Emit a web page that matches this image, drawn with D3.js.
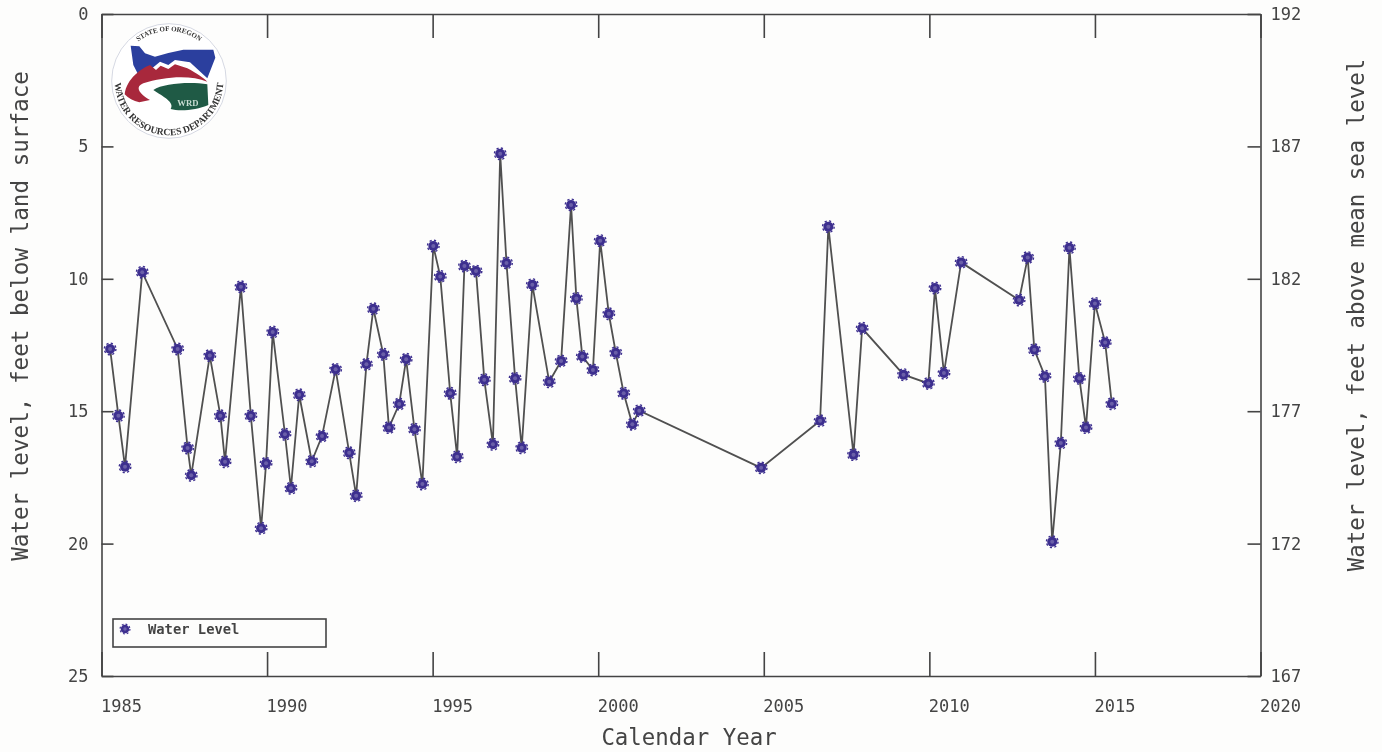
<!DOCTYPE html>
<html>
<head>
<meta charset="utf-8">
<script src="https://cdnjs.cloudflare.com/ajax/libs/d3/7.8.5/d3.min.js"></script>
<style>
    html, body { margin: 0; padding: 0; background: #fdfdfc; }
    svg { display: block; filter: blur(0.5px); }
    text { font-family: "DejaVu Sans Mono", monospace; fill: #444; }
    .domain, .tick line { stroke: #444; stroke-width: 1.6; }
</style>
</head>
<body>
<div id="chart"></div>
<script>
const years = [
    1985.26, 1985.51, 1985.71, 1986.23, 1987.30, 1987.60, 1987.71, 1988.27, 1988.59, 1988.73,
    1989.21, 1989.51, 1989.82, 1989.97, 1990.17, 1990.54, 1990.72, 1990.97, 1991.35, 1991.66,
    1992.07, 1992.48, 1992.69, 1993.00, 1993.21, 1993.51, 1993.68, 1993.99, 1994.20, 1994.45,
    1994.69, 1995.02, 1995.23, 1995.53, 1995.74, 1995.96, 1996.31, 1996.56, 1996.82, 1997.04,
    1997.23, 1997.49, 1997.69, 1998.01, 1998.52, 1998.88, 1999.18, 1999.34, 1999.52, 1999.84,
    2000.06, 2000.32, 2000.53, 2000.77, 2001.03, 2001.24, 2004.92, 2006.70, 2006.95, 2007.71,
    2007.97, 2009.22, 2009.97, 2010.17, 2010.44, 2010.96, 2012.71, 2012.97, 2013.17, 2013.49,
    2013.71, 2013.97, 2014.23, 2014.53, 2014.73, 2015.00, 2015.31, 2015.51
];
const depths = [
    12.65, 15.17, 17.10, 9.75, 12.65, 16.39, 17.42, 12.90, 15.17, 16.91,
    10.30, 15.17, 19.42, 16.97, 12.01, 15.87, 17.91, 14.38, 16.89, 15.94,
    13.42, 16.57, 18.19, 13.23, 11.13, 12.85, 15.62, 14.73, 13.04, 15.68,
    17.75, 8.76, 9.91, 14.32, 16.72, 9.52, 9.71, 13.81, 16.25, 5.28,
    9.40, 13.76, 16.38, 10.22, 13.89, 13.10, 7.21, 10.74, 12.93, 13.44,
    8.56, 11.32, 12.79, 14.32, 15.49, 14.98, 17.14, 15.36, 8.03, 16.64,
    11.87, 13.62, 13.95, 10.35, 13.56, 9.38, 10.80, 9.20, 12.68, 13.68,
    19.93, 16.20, 8.83, 13.76, 15.62, 10.93, 12.41, 14.72
];
const year_ticks = [1985, 1990, 1995, 2000, 2005, 2010, 2015, 2020];
const depth_ticks = [0, 5, 10, 15, 20, 25];
const elevation_ticks = [192, 187, 182, 177, 172, 167];
const series_name = "Water Level";

const width = 1382;
const height = 752;
const plot = {left: 101.5, right: 1260.5, top: 14, bottom: 676};
const line_color = "#505050";
const marker_color = "#3d2f8f";

const svg = d3.select("#chart").append("svg")
    .attr("width", width)
    .attr("height", height);

const x_scale = d3.scaleLinear().domain([1985, 2020]).range([plot.left, plot.right]);
const depth_scale = d3.scaleLinear().domain([0, 25]).range([plot.top, plot.bottom]);
const elevation_scale = d3.scaleLinear().domain([192, 167]).range([plot.top, plot.bottom]);

// axes: ticks point inward, year labels start at the tick like the original
svg.append("g")
    .attr("transform", `translate(0, ${plot.bottom})`)
    .call(d3.axisBottom(x_scale).tickValues(year_ticks).tickFormat(d3.format("d")).tickSizeInner(-24).tickSizeOuter(0))
    .call(g => g.selectAll("text")
        .attr("text-anchor", "start")
        .attr("x", -1)
        .attr("y", 36)
        .attr("dy", 0)
        .style("font-size", "17px"));

svg.append("g")
    .attr("transform", `translate(0, ${plot.top})`)
    .call(d3.axisTop(x_scale).tickValues(year_ticks).tickFormat("").tickSizeInner(-24).tickSizeOuter(0));

svg.append("g")
    .attr("transform", `translate(${plot.left}, 0)`)
    .call(d3.axisLeft(depth_scale).tickValues(depth_ticks).tickSizeInner(-12).tickSizeOuter(0))
    .call(g => g.selectAll("text")
        .attr("x", -13)
        .style("font-size", "17px"));

svg.append("g")
    .attr("transform", `translate(${plot.right}, 0)`)
    .call(d3.axisRight(elevation_scale).tickValues(elevation_ticks).tickSizeInner(-13).tickSizeOuter(0))
    .call(g => g.selectAll("text")
        .attr("x", 10)
        .style("font-size", "17px"));

// axis titles
svg.append("text")
    .attr("x", 689)
    .attr("y", 745)
    .attr("text-anchor", "middle")
    .style("font-size", "22.4px")
    .text("Calendar Year");

svg.append("text")
    .attr("transform", "translate(28, 316) rotate(-90)")
    .attr("text-anchor", "middle")
    .style("font-size", "22.6px")
    .text("Water level, feet below land surface");

svg.append("text")
    .attr("transform", "translate(1364, 315) rotate(-90)")
    .attr("text-anchor", "middle")
    .style("font-size", "22.4px")
    .text("Water level, feet above mean sea level");

const draw_marker = function (selection) {
    selection.append("circle")
        .attr("r", 5)
        .attr("fill", marker_color);
    // little bumps around the disc, the original symbol is a pixel star
    selection.append("circle")
        .attr("r", 5.8)
        .attr("fill", "none")
        .attr("stroke", marker_color)
        .attr("stroke-width", 1.4)
        .attr("stroke-dasharray", "2.2 2.35");
    selection.append("circle")
        .attr("r", 2)
        .attr("fill", "#6a5fa8");
};

// series
const points = years.map((year, i) => ({year: year, depth: depths[i]}));

const line = d3.line()
    .x(d => x_scale(d.year))
    .y(d => depth_scale(d.depth));

svg.append("path")
    .datum(points)
    .attr("fill", "none")
    .attr("stroke", line_color)
    .attr("stroke-width", 1.8)
    .attr("d", line);

svg.append("g")
    .selectAll("g")
    .data(points)
    .join("g")
    .attr("transform", d => `translate(${x_scale(d.year)}, ${depth_scale(d.depth)})`)
    .call(draw_marker);

// legend
const legend = svg.append("g").attr("transform", "translate(113, 619)");
legend.append("rect")
    .attr("width", 213)
    .attr("height", 28)
    .attr("fill", "none")
    .attr("stroke", "#444")
    .attr("stroke-width", 1.6);
legend.append("g")
    .attr("transform", "translate(12, 10) scale(0.85)")
    .call(draw_marker);
legend.append("text")
    .attr("x", 35)
    .attr("y", 15)
    .style("font-size", "13.8px")
    .style("font-weight", "bold")
    .text(series_name);

// agency seal, top left of the plot
const logo = svg.append("g").attr("transform", "translate(100, 15) scale(0.3333)");
const defs = svg.append("defs");
defs.append("path").attr("id", "seal-top").attr("d", "M 57,198 A 150,150 0 0 1 357,198");
defs.append("path").attr("id", "seal-bottom").attr("d", "M 44,198 A 163,163 0 0 0 370,198");

logo.append("circle")
    .attr("cx", 207)
    .attr("cy", 198)
    .attr("r", 172)
    .attr("fill", "#fff")
    .attr("stroke", "#d5d8e2")
    .attr("stroke-width", 3);
logo.append("path")
    .attr("fill", "#2b3f9e")
    .attr("d", "M92,92 L118,94 L135,115 L165,125 L205,114 L250,104 L340,104 L346,128 L322,190 L270,142 L225,135 L205,150 L180,140 L150,165 L118,185 L100,150 Z");
logo.append("path")
    .attr("fill", "#a8283c")
    .attr("d", "M74,238 C80,190 125,160 150,150 L168,165 L182,152 L205,162 L225,148 L262,160 C290,175 312,190 322,200 C270,178 190,185 130,205 C105,215 115,235 150,255 L118,262 C100,258 85,250 74,238 Z");
logo.append("path")
    .attr("fill", "#1f5a45")
    .attr("d", "M160,225 C190,205 270,200 322,208 L325,270 C290,285 240,290 212,282 C225,262 190,245 160,225 Z");
logo.append("text")
    .attr("x", 232)
    .attr("y", 272)
    .style("font-family", "'Liberation Serif', serif")
    .style("font-size", "26px")
    .style("font-weight", "bold")
    .style("fill", "#c8dcd2")
    .text("WRD");
logo.append("text")
    .style("font-family", "'Liberation Serif', serif")
    .style("font-size", "21px")
    .style("font-weight", "bold")
    .style("fill", "#333")
    .append("textPath")
    .attr("href", "#seal-top")
    .attr("startOffset", "50%")
    .attr("text-anchor", "middle")
    .text("STATE OF OREGON");
logo.append("text")
    .style("font-family", "'Liberation Serif', serif")
    .style("font-size", "29px")
    .style("font-weight", "bold")
    .style("fill", "#333")
    .append("textPath")
    .attr("href", "#seal-bottom")
    .attr("startOffset", "50%")
    .attr("text-anchor", "middle")
    .text("WATER RESOURCES DEPARTMENT");
</script>
</body>
</html>
